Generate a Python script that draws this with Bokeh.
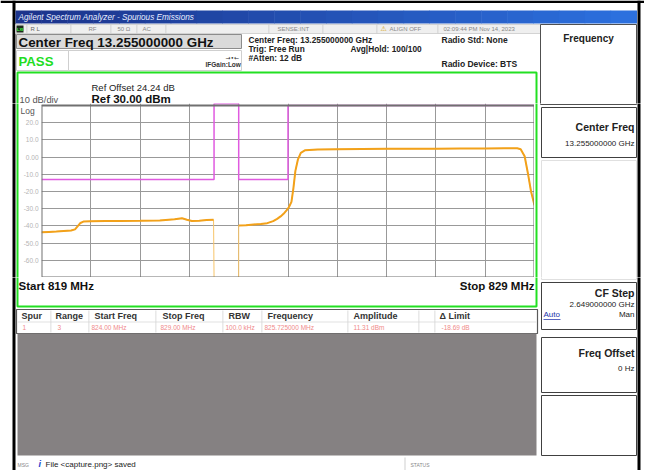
import numpy as np
from bokeh.plotting import figure
from bokeh.layouts import column, row
from bokeh.models import Range1d, FixedTicker, Grid
from bokeh.core.properties import value
from bokeh.embed import file_html
from bokeh.resources import INLINE

# ---------------- data ----------------
start_mhz, stop_mhz = 819.0, 829.0
ref_level_dbm = 30.0
bottom_dbm = -70.0

x_grid_mhz = [820, 821, 822, 823, 824, 825, 826, 827, 828]
y_tick_dbm = [20, 10, 0, -10, -20, -30, -40, -50, -60]
y_tick_labels = ["20.0", "10.0", "0.00", "-10.0", "-20.0", "-30.0", "-40.0", "-50.0", "-60.0"]

trace_freq_mhz = [819.00, 819.15, 819.30, 819.45, 819.60, 819.68, 819.74, 819.79, 819.85,
                  820.00, 820.30, 820.60, 821.00, 821.40, 821.70, 821.85, 821.95, 822.05,
                  822.20, 822.35, 822.49, 822.50, 823.00, 823.00, 823.15, 823.30, 823.45,
                  823.58, 823.70, 823.78, 823.85, 823.91, 823.97, 824.02, 824.07, 824.11,
                  824.15, 824.20, 824.26, 824.35, 824.60, 825.00, 825.50, 826.00, 826.50,
                  827.00, 827.50, 828.00, 828.40, 828.65, 828.72, 828.80, 828.87, 828.93,
                  829.00]
trace_dbm = [-43.7, -43.5, -43.3, -43.0, -42.7, -42.0, -40.0, -38.3, -37.5,
             -37.3, -37.2, -37.1, -37.0, -36.8, -36.2, -35.6, -36.4, -37.1,
             -37.0, -36.6, -36.4, -85.0, -85.0, -39.8, -39.6, -39.2, -38.9,
             -38.4, -37.2, -35.9, -34.5, -33.0, -31.0, -29.0, -26.0, -18.0,
             -8.0, -1.5, 2.5, 4.0, 4.4, 4.6, 4.7, 4.8, 4.8,
             4.9, 5.0, 5.0, 5.1, 5.1, 4.6, 0.5, -10.0, -20.0,
             -28.0]

limit_freq_mhz = [819.0, 822.5, 822.5, 823.0, 823.0, 824.0, 824.0, 829.0]
limit_dbm = [-13.0, -13.0, 31.0, 31.0, -13.0, -13.0, 30.0, 30.0]

table_headers = ["Spur", "Range", "Start Freq", "Stop Freq", "RBW", "Frequency", "Amplitude", "\u0394 Limit"]
table_row = ["1", "3", "824.00 MHz", "829.00 MHz", "100.0 kHz", "825.725000 MHz", "11.31 dBm", "-18.69 dB"]

FONT = "Liberation Sans"

# ---------------- layout geometry (page pixels) ----------------
GX0, GX1 = 41, 534      # main plot frame, horizontal
GY0, GY1 = 103, 277     # main plot frame, vertical
WX0, WX1, WY0, WY1 = 0, 644, 0, 470
PX_PER_DB = 1.72
y_top_dbm = ref_level_dbm + (105 - GY0) / PX_PER_DB


def strip(X0, X1, Y0, Y1, y_range=None):
    f = figure(width=X1 - X0, height=Y1 - Y0, x_range=Range1d(X0, X1),
               y_range=y_range if y_range is not None else Range1d(Y1, Y0),
               output_backend="svg", toolbar_location=None,
               x_axis_location=None, y_axis_location=None, min_border=0)
    f.extra_x_ranges = {"px": Range1d(X0, X1)}
    f.extra_y_ranges = {"py": Range1d(Y1, Y0)}
    f.center = [r for r in f.center if not isinstance(r, Grid)]
    f.outline_line_color = None
    f.background_fill_color = "white"
    f.border_fill_color = "white"
    return f


main = strip(GX0, GX1, GY0, GY1)
main.x_range = Range1d(start_mhz, stop_mhz)
main.y_range = Range1d(bottom_dbm, y_top_dbm)
main.add_layout(Grid(dimension=0, ticker=FixedTicker(ticks=x_grid_mhz),
                     grid_line_color="#999999", grid_line_width=1))
main.add_layout(Grid(dimension=1, ticker=FixedTicker(ticks=y_tick_dbm + [ref_level_dbm]),
                     grid_line_color="#999999", grid_line_width=1))

top = strip(WX0, WX1, WY0, GY0)
left = strip(WX0, GX0, GY0, GY1, y_range=main.y_range)
right = strip(GX1, WX1, GY0, GY1)
bottom = strip(WX0, WX1, GY1, WY1)

strips = [(top, WX0, WX1, WY0, GY0), (left, WX0, GX0, GY0, GY1),
          (right, GX1, WX1, GY0, GY1), (bottom, WX0, WX1, GY1, WY1)]


def rect(x0, y0, x1, y1, fill=None, line=None, lw=1.0):
    for f, *_ in strips:
        f.quad(left=[x0], right=[x1], top=[y0], bottom=[y1],
               x_range_name="px", y_range_name="py",
               fill_color=fill if fill else "white", fill_alpha=1.0 if fill else 0.0,
               line_color=line if line else "black", line_alpha=1.0 if line else 0.0,
               line_width=lw)


def text(x, y, s, size=8.0, color="#222222", bold=False, italic=False, align="left", font=FONT):
    style = "bold italic" if (bold and italic) else ("bold" if bold else ("italic" if italic else "normal"))
    for f, X0, X1, Y0, Y1 in strips:
        if X0 <= x <= X1 and Y0 <= y < Y1:
            f.text(x=[x], y=[y], text=[s], x_range_name="px", y_range_name="py",
                   text_font=value(font), text_font_size=value(f"{size}px"),
                   text_font_style=value(style), text_color=color,
                   text_align=value(align), text_baseline=value("middle"))
            return


# ---------------- spectrum ----------------
fr = np.array(trace_freq_mhz)
lv = np.array(trace_dbm)
main.line(fr, np.clip(lv, bottom_dbm, None), line_color="#f7c469", line_width=1)
main.line(fr, np.where(lv < bottom_dbm, np.nan, lv), line_color="#f2a11a", line_width=2)
main.line(limit_freq_mhz, limit_dbm, line_color="#e05ae0", line_width=1.5)
main.quad(left=[start_mhz], right=[stop_mhz], top=[ref_level_dbm], bottom=[bottom_dbm],
          fill_alpha=0.0, line_color="#707070", line_width=2)

# y tick labels, positioned through the shared dBm scale
left.text(x=[38] * len(y_tick_dbm), y=y_tick_dbm, text=y_tick_labels, x_range_name="px",
          text_font=value(FONT), text_font_size=value("6.5px"), text_color="#b4b4b4",
          text_align=value("right"), text_baseline=value("middle"))

# ---------------- chrome ----------------
rect(0, 0, 644, 2.5, fill="black")
rect(12, 0, 15, 474, fill="black")
rect(637, 0, 640, 474, fill="black")

n = 24
x0, x1 = 15, 636
c0, c1 = np.array([28, 52, 140]), np.array([44, 112, 222])
for i in range(n):
    c = c0 + (c1 - c0) * i / (n - 1)
    col = "#%02x%02x%02x" % tuple(int(v) for v in c)
    rect(x0 + (x1 - x0) * i / n, 10, x0 + (x1 - x0) * (i + 1) / n + 0.5, 23, fill=col)
text(18, 16.5, "Agilent Spectrum Analyzer - Spurious Emissions", size=8.2, color="#e8eeff", italic=True)

rect(15, 24, 540, 33, fill="#efefef", line="#c9c9c9", lw=0.8)
for sx in [26, 70, 110, 136, 165, 268, 322, 376, 437]:
    rect(sx, 24, sx + 0.8, 33, fill="#c9c9c9")
rect(16, 25, 23, 32, fill="#1c2a1c")
text(16.5, 28.5, "LXI", size=4, color="#44ff44", bold=True)
text(30, 28.5, "R L", size=6, color="#666666")
text(88, 28.5, "RF", size=6, color="#888888")
text(117, 28.5, "50 \u03a9", size=6, color="#888888")
text(142, 28.5, "AC", size=6, color="#888888")
text(277, 28.5, "SENSE:INT", size=6, color="#888888")
text(380, 28.5, "\u26a0", size=7, color="#d4a000", font="DejaVu Sans")
text(389, 28.5, "ALIGN OFF", size=6, color="#888888")
text(443, 28.5, "02:09:44 PM Nov 14, 2023", size=6, color="#888888")

rect(16, 34, 241, 48, fill="#dadada", line="#8c8c8c", lw=1)
text(18, 41.5, "Center Freq 13.255000000 GHz", size=13.4, color="#111111", bold=True)
rect(16, 50, 68, 70, line="#cfcfcf", lw=1)
rect(68, 50, 241, 70, line="#cfcfcf", lw=1)
text(18, 60.5, "PASS", size=13.2, color="#22dd22", bold=True)
text(205, 64, "IFGain:Low", size=6.5, color="#333333", bold=True)
text(225, 56.5, "\u2192\u2022\u2190", size=6, color="#333333", font="DejaVu Sans")

text(248, 39, "Center Freq: 13.255000000 GHz", size=8.3, color="#222222", bold=True)
text(248, 48, "Trig: Free Run", size=8.3, color="#222222", bold=True)
text(248, 57, "#Atten: 12 dB", size=8.3, color="#222222", bold=True)
text(350, 48, "Avg|Hold: 100/100", size=8.3, color="#222222", bold=True)
text(441, 39, "Radio Std: None", size=8.5, color="#222222", bold=True)
text(441, 63, "Radio Device: BTS", size=8.5, color="#222222", bold=True)

rect(17, 72, 536, 306, line="#22e022", lw=2)
text(91, 87, "Ref Offset 24.24 dB", size=9.5, color="#222222")
text(91, 98, "Ref 30.00 dBm", size=11.5, color="#111111", bold=True)
text(19, 99, "10 dB/div", size=9.3, color="#555555")
text(20, 110, "Log", size=8.5, color="#555555")
text(18, 285, "Start  819 MHz", size=11.5, color="#111111", bold=True)
text(534, 285, "Stop 829 MHz", size=11.5, color="#111111", bold=True, align="right")

rect(16, 309, 537, 333, fill="white", line="#5a5a5a", lw=1.2)
rect(17, 321, 536, 322, fill="#e2e2e2")
for sx in [50, 88, 155, 222, 261, 347, 418, 434]:
    rect(sx, 310, sx + 0.8, 332, fill="#d4d4d4")
hx = [21, 55, 94, 162, 228, 267, 353, 439]
for x, s in zip(hx, table_headers):
    text(x, 315.5, s, size=9, color="#333333", bold=True)
dx = [22, 57, 91, 160, 225, 264, 353, 441]
for x, s in zip(dx, table_row):
    text(x, 326.5, s, size=6.5, color="#f08a8a")

rect(17, 333, 536, 455, fill="#858182")

text(17, 464, "MSG", size=5, color="#888888")
text(38, 463, "i", size=9, color="#2244cc", bold=True, italic=True)
text(45, 464, "File <capture.png> saved", size=8, color="#222222")
rect(404, 457, 405, 470, fill="#d0d0d0")
text(410, 464, "STATUS", size=5, color="#888888")

rect(540, 24, 636, 104, line="#505050", lw=1)
text(588, 38, "Frequency", size=10, color="#222222", bold=True, align="center")
rect(541, 107, 636, 157, line="#404040", lw=1)
text(634, 126, "Center Freq", size=10.5, color="#222222", bold=True, align="right")
text(634, 143, "13.255000000 GHz", size=8, color="#222222", align="right")
rect(541, 160, 636, 279, line="#e0e0e0", lw=1)
rect(541, 282, 636, 329, line="#404040", lw=1)
text(634, 292, "CF Step", size=10.5, color="#222222", bold=True, align="right")
text(634, 304, "2.649000000 GHz", size=8, color="#222222", align="right")
text(543, 314, "Auto", size=8, color="#2233aa")
rect(543, 318.5, 560, 319.3, fill="#2233aa")
text(634, 314, "Man", size=8, color="#222222", align="right")
rect(541, 337, 636, 392, line="#404040", lw=1)
text(634, 352, "Freq Offset", size=10.5, color="#222222", bold=True, align="right")
text(634, 368, "0 Hz", size=8, color="#222222", align="right")
rect(541, 395, 636, 455, line="#404040", lw=1)

layout = column(top, row(left, main, right), bottom)
open("out.html", "w").write(file_html(layout, INLINE))
